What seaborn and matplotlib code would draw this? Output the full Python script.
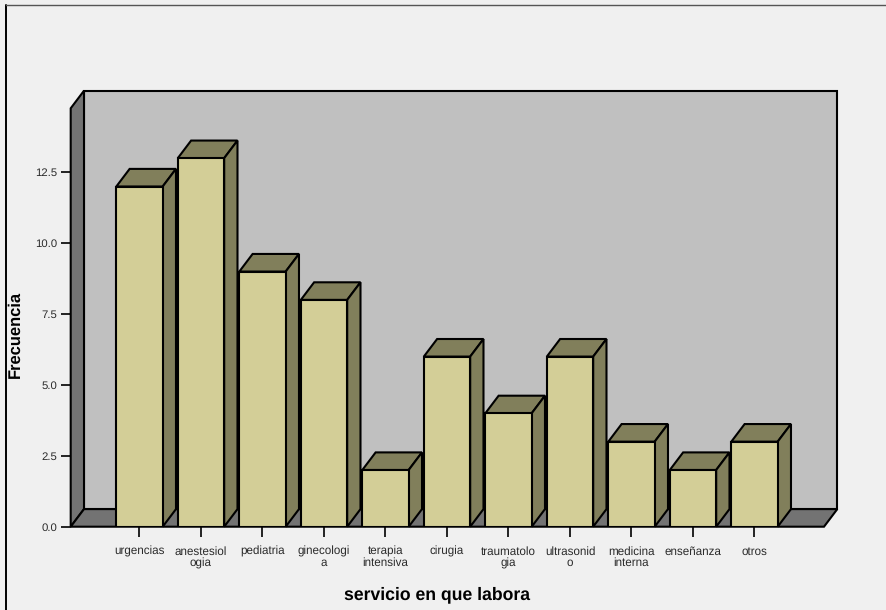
import matplotlib
matplotlib.use("Agg")
import matplotlib.pyplot as plt
from matplotlib.lines import Line2D
from matplotlib.patches import Polygon
import pandas as pd
import seaborn as sns

# Survey counts per hospital service
servicios = ["urgencias", "anestesiol\nogia", "pediatria", "ginecologi\na",
             "terapia\nintensiva", "cirugia", "traumatolo\ngia", "ultrasonid\no",
             "medicina\ninterna", "enseñanza", "otros"]
frecuencias = [12, 13, 9, 8, 2, 6, 4, 6, 3, 2, 3]
marcas_y = [0.0, 2.5, 5.0, 7.5, 10.0, 12.5]

FONDO = "#F0F0F0"
PARED = "#C0C0C0"
SUELO = "#737373"
FRENTE = "#D3CE97"
LATERAL = "#817F5B"

W, H = 887, 610
sns.set_theme(style="white")
plt.rcParams["font.family"] = ["Liberation Sans", "DejaVu Sans"]
plt.rcParams["text.hinting"] = "no_hinting"

fig = plt.figure(figsize=(W / 100, H / 100), dpi=100, facecolor=FONDO)

# Front plane of the pseudo-3D plot, in pixels
x0, x1, y0, y1 = 70.7, 824.0, 526.7, 108.3
ax = fig.add_axes([x0 / W, 1 - y0 / H, (x1 - x0) / W, (y0 - y1) / H])
ax.set_facecolor("none")

paso = 61.5
ax.set_xlim(-(139.5 - x0) / paso, -(139.5 - x0) / paso + (x1 - x0) / paso)
unidad = 28.35
ax.set_ylim(0, (y0 - y1) / unidad)
xa, xb = ax.get_xlim()
ya, yb = ax.get_ylim()

# Depth offset expressed in data units
dx = 13.3 / paso
dy = 17.6 / unidad
lw = 1.5

# Back wall, left wall and floor
def cara(puntos, color, z):
    ax.add_patch(Polygon(puntos, closed=True, facecolor=color, edgecolor="black",
                         linewidth=lw, clip_on=False, zorder=z, joinstyle="miter"))

cara([(xa + dx, ya + dy), (xb + dx, ya + dy), (xb + dx, yb + dy), (xa + dx, yb + dy)], PARED, 0.5)
cara([(xa, ya), (xa + dx, ya + dy), (xa + dx, yb + dy), (xa, yb)], SUELO, 0.6)
cara([(xa, ya), (xb, ya), (xb + dx, ya + dy), (xa + dx, ya + dy)], SUELO, 0.6)

tabla = pd.DataFrame({"servicio": servicios, "frecuencia": frecuencias})
sns.barplot(data=tabla, x="servicio", y="frecuencia", order=servicios, color=FRENTE,
            saturation=1, width=0.754, edgecolor="black", linewidth=lw, ax=ax, zorder=3)

# Top and side faces of each bar, taken from the bars seaborn just drew
for barra in ax.patches:
    if not hasattr(barra, "get_width"):
        continue
    a = barra.get_x()
    b = a + barra.get_width()
    v = barra.get_height()
    cara([(a, v), (b, v), (b + dx, v + dy), (a + dx, v + dy)], LATERAL, 2)
    cara([(b, 0), (b + dx, dy), (b + dx, v + dy), (b, v)], LATERAL, 2)

ax.set_xlim(xa, xb)
ax.set_ylim(ya, yb)
sns.despine(ax=ax, left=True, bottom=True, top=True, right=True)
ax.set_xlabel("")
ax.set_ylabel("")

ax.set_yticks(marcas_y)
ax.set_yticklabels([f"{m:.1f}" for m in marcas_y])
ax.set_xticks(range(len(servicios)))
ax.set_xticklabels(servicios, linespacing=1.05)
ax.tick_params(axis="x", length=7.2, width=1.2, color="black", pad=6.5,
               labelsize=8.4, labelcolor="#2a2a2a", bottom=True)
ax.tick_params(axis="y", length=7.2, width=1.2, color="black", pad=2.5,
               labelsize=8.2, labelcolor="#2a2a2a", left=True)

fig.text(437 / W, 1 - 595 / H, "servicio en que labora", ha="center", va="center",
         fontsize=12.7, fontweight="bold", color="black")
fig.text(15 / W, 1 - 334 / H, "Frecuencia", ha="center", va="center", rotation=90,
         fontsize=11.9, fontweight="bold", color="black")

# Chart frame: only the left and top edges are drawn
fig.add_artist(Line2D([6.5 / W, 6.5 / W], [0, 1 - 5 / H], color="black", linewidth=1.4,
                      transform=fig.transFigure))
fig.add_artist(Line2D([6.5 / W, 1], [1 - 5 / H, 1 - 5 / H], color="#555555", linewidth=1.0,
                      transform=fig.transFigure))

fig.savefig("out.png", dpi=100, facecolor=FONDO)
